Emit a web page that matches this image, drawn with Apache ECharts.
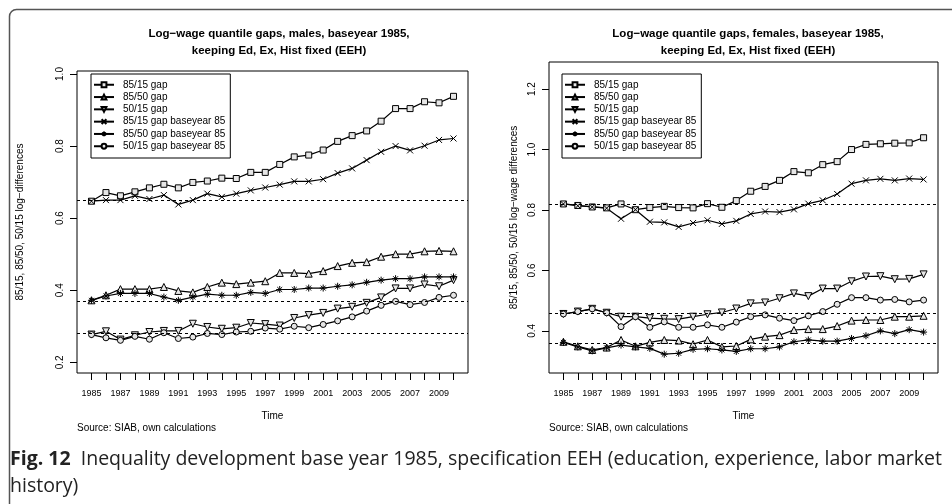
<!DOCTYPE html>
<html>
<head>
<meta charset="utf-8">
<script src="https://cdn.jsdelivr.net/npm/echarts@6/dist/echarts.min.js"></script>
<style>
  html, body { margin: 0; padding: 0; background: #fff; }
  #main { width: 952px; height: 504px; }
</style>
</head>
<body>
<div id="main"></div>
<script>
// years on the x axis, labels only on the odd ones
var years = [1985, 1986, 1987, 1988, 1989, 1990, 1991, 1992, 1993, 1994, 1995, 1996, 1997,
             1998, 1999, 2000, 2001, 2002, 2003, 2004, 2005, 2006, 2007, 2008, 2009, 2010];
var yearLabels = [1985, 1987, 1989, 1991, 1993, 1995, 1997, 1999, 2001, 2003, 2005, 2007, 2009];
var maleTicks = [0.2, 0.4, 0.6, 0.8, 1.0];
var femaleTicks = [0.4, 0.6, 0.8, 1.0, 1.2];

var seriesNames = ['85/15 gap', '85/50 gap', '50/15 gap',
                   '85/15 gap baseyear 85', '85/50 gap baseyear 85', '50/15 gap baseyear 85'];

// males
var m8515 = [0.647, 0.671, 0.662, 0.673, 0.684, 0.694, 0.684, 0.699, 0.703, 0.711, 0.710, 0.727, 0.727,
             0.749, 0.770, 0.775, 0.789, 0.813, 0.829, 0.842, 0.869, 0.904, 0.904, 0.923, 0.920, 0.938];
var m8550 = [0.372, 0.386, 0.403, 0.403, 0.403, 0.409, 0.398, 0.394, 0.409, 0.421, 0.417, 0.421, 0.425,
             0.448, 0.448, 0.446, 0.453, 0.467, 0.476, 0.478, 0.493, 0.500, 0.500, 0.508, 0.509, 0.508];
var m5015 = [0.277, 0.286, 0.263, 0.275, 0.284, 0.287, 0.287, 0.307, 0.298, 0.293, 0.296, 0.309, 0.306,
             0.302, 0.323, 0.331, 0.337, 0.349, 0.354, 0.365, 0.380, 0.405, 0.405, 0.416, 0.411, 0.428];
var m8515b = [0.647, 0.650, 0.650, 0.662, 0.653, 0.664, 0.638, 0.650, 0.668, 0.659, 0.668, 0.677, 0.685,
              0.693, 0.702, 0.702, 0.708, 0.725, 0.738, 0.761, 0.784, 0.800, 0.788, 0.801, 0.817, 0.821];
var m8550b = [0.372, 0.384, 0.391, 0.391, 0.391, 0.381, 0.372, 0.381, 0.389, 0.386, 0.386, 0.394, 0.391,
              0.402, 0.402, 0.406, 0.406, 0.411, 0.415, 0.422, 0.428, 0.432, 0.432, 0.437, 0.437, 0.437];
var m5015b = [0.277, 0.268, 0.261, 0.272, 0.264, 0.282, 0.266, 0.270, 0.280, 0.277, 0.284, 0.286, 0.295,
              0.292, 0.300, 0.296, 0.305, 0.315, 0.326, 0.342, 0.358, 0.369, 0.360, 0.366, 0.380, 0.386];

// females
var f8515 = [0.820, 0.815, 0.810, 0.807, 0.820, 0.801, 0.808, 0.812, 0.808, 0.807, 0.821, 0.809, 0.831,
             0.862, 0.878, 0.898, 0.927, 0.923, 0.950, 0.960, 1.000, 1.017, 1.019, 1.021, 1.022, 1.039];
var f8550 = [0.364, 0.349, 0.337, 0.345, 0.370, 0.349, 0.362, 0.370, 0.368, 0.356, 0.370, 0.347, 0.350,
             0.372, 0.381, 0.386, 0.403, 0.406, 0.406, 0.416, 0.434, 0.436, 0.436, 0.447, 0.447, 0.450];
var f5015 = [0.456, 0.464, 0.473, 0.460, 0.447, 0.447, 0.442, 0.440, 0.439, 0.447, 0.455, 0.461, 0.474,
             0.491, 0.494, 0.508, 0.524, 0.515, 0.540, 0.540, 0.564, 0.580, 0.581, 0.571, 0.572, 0.587];
var f8515b = [0.820, 0.814, 0.810, 0.806, 0.771, 0.801, 0.761, 0.759, 0.744, 0.757, 0.766, 0.754, 0.764,
              0.787, 0.795, 0.793, 0.802, 0.821, 0.832, 0.853, 0.887, 0.898, 0.903, 0.898, 0.904, 0.901];
var f8550b = [0.362, 0.347, 0.334, 0.344, 0.353, 0.347, 0.342, 0.323, 0.326, 0.339, 0.341, 0.337, 0.332,
              0.341, 0.341, 0.347, 0.364, 0.370, 0.366, 0.366, 0.375, 0.384, 0.400, 0.391, 0.404, 0.396];
var f5015b = [0.456, 0.464, 0.473, 0.460, 0.414, 0.447, 0.412, 0.430, 0.412, 0.412, 0.420, 0.412, 0.429,
              0.447, 0.453, 0.442, 0.434, 0.450, 0.464, 0.488, 0.510, 0.510, 0.502, 0.504, 0.496, 0.502];

var FONT = '"Liberation Sans", Arial, sans-serif';

// marker for each of the six lines (R pch 0, 2, 6, 4, 8, 1)
var markers = [
    { symbol: 'rect', size: 6, rotate: 0 },
    { symbol: 'triangle', size: 7, rotate: 0 },
    { symbol: 'triangle', size: 7, rotate: 180 },
    { symbol: 'path://M0,0L10,10M10,0L0,10', size: 6, rotate: 0 },
    { symbol: 'path://M5,0L5,10M0,5L10,5M1.5,1.5L8.5,8.5M8.5,1.5L1.5,8.5', size: 7, rotate: 0 },
    { symbol: 'circle', size: 6, rotate: 0 }
];

function pairs (vals) {
    return years.map(function (y, i) { return [y, vals[i]]; });
}

function makeSeries (idx, groups) {
    return groups.map(function (vals, k) {
        var mk = markers[k];
        var s = {
            name: seriesNames[k],
            type: 'line',
            xAxisIndex: idx,
            yAxisIndex: idx,
            data: pairs(vals),
            symbol: mk.symbol,
            symbolSize: mk.size,
            symbolRotate: mk.rotate,
            showAllSymbol: true,
            lineStyle: { color: '#000', width: 1.2 },
            itemStyle: { color: '#e6e6e6', borderColor: '#000', borderWidth: 1 },
            emphasis: { disabled: true },
            z: 3
        };
        // dashed reference lines at the 1985 level of the three base gaps
        if (k < 3) {
            s.markLine = {
                silent: true,
                symbol: 'none',
                label: { show: false },
                lineStyle: { color: '#000', type: [3, 3], width: 1 },
                data: [{ yAxis: vals[0] }]
            };
        }
        return s;
    });
}

function xAxisFor (idx) {
    return {
        type: 'value',
        gridIndex: idx,
        min: 1984,
        max: 2011,
        name: 'Time',
        nameLocation: 'middle',
        nameGap: 38,
        nameTextStyle: { fontFamily: FONT, fontSize: 10, color: '#000' },
        axisLine: { show: false },
        splitLine: { show: false },
        axisTick: { show: true, inside: false, length: 7, customValues: years, lineStyle: { color: '#000' } },
        axisLabel: {
            customValues: yearLabels, margin: 16, fontFamily: FONT, fontSize: 9, color: '#000',
            formatter: function (v) { return String(v); }
        }
    };
}

function yAxisFor (idx, min, max, ticks, name, gap) {
    return {
        type: 'value',
        gridIndex: idx,
        min: min,
        max: max,
        name: name,
        nameLocation: 'middle',
        nameRotate: 90,
        nameGap: gap,
        nameTextStyle: { fontFamily: FONT, fontSize: 10, color: '#000' },
        axisLine: { show: false },
        splitLine: { show: false },
        axisTick: { show: true, inside: false, length: 7, customValues: ticks, lineStyle: { color: '#000' } },
        axisLabel: {
            customValues: ticks, rotate: 90, margin: 12,
            fontFamily: FONT, fontSize: 10, color: '#000',
            formatter: function (v) { return v.toFixed(1); }
        }
    };
}

function legendFor (left, top) {
    return {
        data: seriesNames,
        orient: 'vertical',
        left: left,
        top: top,
        itemWidth: 20,
        itemHeight: 6,
        itemGap: 0.8,
        padding: [5, 5, 6, 2],
        borderColor: '#000',
        borderWidth: 1,
        selectedMode: false,
        textStyle: { fontFamily: FONT, fontSize: 10, color: '#000', padding: [0, 0, 0, 4], lineHeight: 11.5 }
    };
}

var myChart = echarts.init(document.getElementById('main'));

var option = {
    animation: false,
    backgroundColor: '#fff',
    title: [
        {
            text: 'Log\u2212wage quantile gaps, males, baseyear 1985,\nkeeping Ed, Ex, Hist fixed (EEH)',
            left: 274, top: 20, textAlign: 'center',
            textStyle: { fontFamily: FONT, fontSize: 11.5, fontWeight: 'bold', color: '#000', lineHeight: 17 }
        },
        {
            text: 'Log\u2212wage quantile gaps, females, baseyear 1985,\nkeeping Ed, Ex, Hist fixed (EEH)',
            left: 743, top: 20, textAlign: 'center',
            textStyle: { fontFamily: FONT, fontSize: 11.5, fontWeight: 'bold', color: '#000', lineHeight: 17 }
        }
    ],
    legend: [legendFor(91, 74), legendFor(562, 74)],
    grid: [
        { left: 77, top: 71, width: 391, height: 302, show: true, borderColor: '#000', borderWidth: 1, backgroundColor: 'transparent' },
        { left: 549, top: 62, width: 389, height: 311, show: true, borderColor: '#000', borderWidth: 1, backgroundColor: 'transparent' }
    ],
    xAxis: [xAxisFor(0), xAxisFor(1)],
    yAxis: [
        yAxisFor(0, 0.1703, 1.0083, maleTicks, '85/15, 85/50, 50/15 log\u2212differences', 52),
        yAxisFor(1, 0.2607, 1.2896, femaleTicks, '85/15, 85/50, 50/15 log\u2212wage differences', 30)
    ],
    series: makeSeries(0, [m8515, m8550, m5015, m8515b, m8550b, m5015b])
        .concat(makeSeries(1, [f8515, f8550, f5015, f8515b, f8550b, f5015b])),
    graphic: [
        {
            type: 'rect', left: 7, top: 7, silent: true,
            shape: { x: 0, y: 0, width: 980, height: 520, r: 7 },
            style: { fill: 'none', stroke: '#555', lineWidth: 1.5 }
        },
        {
            type: 'text', left: 77, top: 423, silent: true,
            style: { text: 'Source: SIAB, own calculations', font: '10px ' + FONT, fill: '#000' }
        },
        {
            type: 'text', left: 549, top: 423, silent: true,
            style: { text: 'Source: SIAB, own calculations', font: '10px ' + FONT, fill: '#000' }
        },
        {
            type: 'text', left: 10, top: 446, silent: true,
            style: {
                text: '{b|Fig. 12}  Inequality development base year 1985, specification EEH (education, experience, labor market\nhistory)',
                font: '19.5px "Open Sans", sans-serif',
                lineHeight: 27,
                fill: '#222',
                rich: {
                    b: { font: 'bold 19.5px "Open Sans", sans-serif', fill: '#222', lineHeight: 27 }
                }
            }
        }
    ]
};

myChart.setOption(option);
</script>
</body>
</html>
